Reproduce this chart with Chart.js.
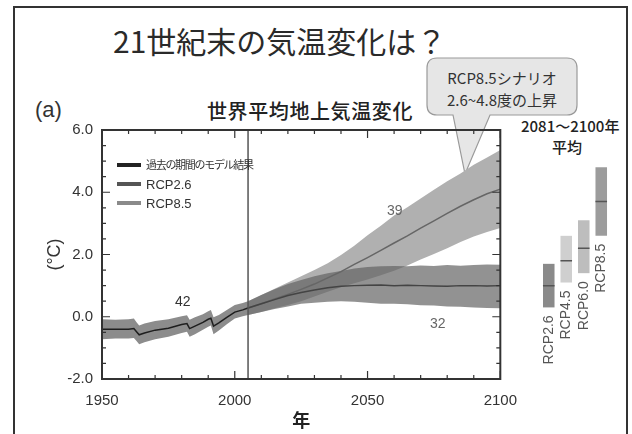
<!DOCTYPE html>
<html lang="ja">
<head>
<meta charset="utf-8">
<script src="https://cdn.jsdelivr.net/npm/chart.js@4.4.1/dist/chart.umd.min.js"></script>
<style>
  html, body { margin: 0; padding: 0; background: #fff; }
  body { width: 632px; height: 434px; position: relative; overflow: hidden;
         font-family: "Noto Sans CJK JP", "Liberation Sans", sans-serif; color: #222; }
  .abs { position: absolute; line-height: 1; white-space: nowrap; }
  #frame { position: absolute; left: 13px; top: 6px; width: 611px; height: 460px;
           border: 2px solid #333; border-bottom: none; }
  #main { position: absolute; left: 0; top: 0; }
  #side { position: absolute; left: 530px; top: 0; }
  .leg { position: absolute; left: 117px; width: 24px; height: 4px; }
  .legtxt { position: absolute; left: 146px; font-size: 13px; line-height: 1;
            font-family: "Liberation Sans", "Noto Sans CJK JP", sans-serif; color: #333; }
</style>
</head>
<body>
<div id="frame"></div>

<div class="abs" style="left:113px; top:25px; font-size:30px; color:#2a2a2a;">21世紀末の気温変化は？</div>
<div class="abs" style="left:35px; top:99px; font-size:22px; font-family:'Liberation Sans',sans-serif; color:#333;">(a)</div>
<div class="abs" style="left:207px; top:101px; font-size:20px; font-weight:500; letter-spacing:0.6px;">世界平均地上気温変化</div>

<svg class="abs" style="left:0; top:0;" width="632" height="434">
  <path d="M437 58 H567 Q577 58 577 68 V105 Q577 115 567 115 H490 L465 174 L453 115 H437 Q427 115 427 105 V68 Q427 58 437 58 Z"
        fill="#e6e6e6" stroke="#9a9a9a" stroke-width="1.2"/>
</svg>
<div class="abs" style="left:427px; width:150px; text-align:center; top:70px; font-size:15px; color:#333;">RCP8.5シナリオ</div>
<div class="abs" style="left:427px; width:150px; text-align:center; top:92px; font-size:15px; color:#333;">2.6~4.8度の上昇</div>

<div class="abs" style="left:521px; top:118px; font-size:15px; font-weight:500;">2081～2100年</div>
<div class="abs" style="left:552px; top:139px; font-size:15px; font-weight:500;">平均</div>

<canvas id="main" width="530" height="434"></canvas>
<canvas id="side" width="100" height="434"></canvas>

<div class="leg" style="top:163px; background:#222;"></div>
<div class="leg" style="top:182px; background:#555;"></div>
<div class="leg" style="top:201px; background:#8a8a8a;"></div>
<div class="legtxt" style="top:159px; font-size:11px; letter-spacing:-1.3px; font-family:'Noto Sans CJK JP',sans-serif;">過去の期間のモデル結果</div>
<div class="legtxt" style="top:178px;">RCP2.6</div>
<div class="legtxt" style="top:197px;">RCP8.5</div>

<div class="abs" style="left:175px; top:294px; font-size:14px; font-family:'Liberation Sans',sans-serif; color:#333;">42</div>
<div class="abs" style="left:387px; top:203px; font-size:14px; font-family:'Liberation Sans',sans-serif; color:#666;">39</div>
<div class="abs" style="left:430px; top:316px; font-size:14px; font-family:'Liberation Sans',sans-serif; color:#666;">32</div>

<script>
// historical model runs (1950-2005)
const histYears = [1950, 1955, 1960, 1962, 1963, 1964, 1966, 1970, 1975, 1980, 1982, 1983, 1985, 1988, 1990, 1991, 1992, 1994, 1997, 2000, 2003, 2005];
const histMean  = [-0.40, -0.40, -0.40, -0.38, -0.48, -0.58, -0.52, -0.43, -0.37, -0.25, -0.22, -0.38, -0.30, -0.18, -0.08, -0.05, -0.30, -0.20, -0.02, 0.15, 0.22, 0.28];
const histUpper = [-0.08, -0.10, -0.08, -0.06, -0.18, -0.28, -0.22, -0.14, -0.08, 0.02, 0.05, -0.10, -0.02, 0.08, 0.18, 0.22, -0.02, 0.06, 0.22, 0.38, 0.44, 0.50];
const histLower = [-0.72, -0.70, -0.70, -0.68, -0.78, -0.88, -0.82, -0.72, -0.64, -0.52, -0.48, -0.64, -0.56, -0.42, -0.32, -0.28, -0.56, -0.44, -0.24, -0.06, 0.02, 0.06];

// scenarios (2005-2100)
const futYears   = [2005, 2010, 2015, 2020, 2025, 2030, 2035, 2040, 2045, 2050, 2055, 2060, 2065, 2070, 2075, 2080, 2085, 2090, 2095, 2100];
const rcp26Mean  = [0.28, 0.42, 0.55, 0.68, 0.78, 0.86, 0.93, 0.98, 1.00, 1.01, 1.02, 1.00, 1.01, 1.00, 0.99, 0.98, 1.00, 1.00, 0.99, 1.00];
const rcp26Upper = [0.50, 0.70, 0.88, 1.05, 1.18, 1.30, 1.40, 1.47, 1.55, 1.60, 1.62, 1.63, 1.62, 1.65, 1.63, 1.66, 1.64, 1.66, 1.68, 1.67];
const rcp26Lower = [0.06, 0.15, 0.25, 0.33, 0.42, 0.45, 0.48, 0.50, 0.48, 0.45, 0.42, 0.42, 0.40, 0.37, 0.36, 0.33, 0.32, 0.30, 0.28, 0.27];
const rcp85Mean  = [0.28, 0.42, 0.57, 0.72, 0.88, 1.05, 1.25, 1.45, 1.68, 1.90, 2.13, 2.37, 2.60, 2.85, 3.08, 3.32, 3.55, 3.76, 3.95, 4.10];
const rcp85Upper = [0.50, 0.70, 0.90, 1.10, 1.30, 1.50, 1.72, 1.98, 2.28, 2.62, 2.92, 3.25, 3.52, 3.80, 4.08, 4.35, 4.60, 4.88, 5.12, 5.36];
const rcp85Lower = [0.06, 0.15, 0.27, 0.38, 0.50, 0.65, 0.80, 0.95, 1.08, 1.20, 1.33, 1.48, 1.65, 1.84, 2.02, 2.20, 2.40, 2.58, 2.72, 2.85];

// 2081-2100 averages
const sideLabels = ['RCP2.6', 'RCP4.5', 'RCP6.0', 'RCP8.5'];
const sideLow    = [0.3, 1.1, 1.4, 2.6];
const sideHigh   = [1.7, 2.6, 3.1, 4.8];
const sideMean   = [1.0, 1.8, 2.2, 3.7];
const sideColors = ['#8a8a8a', '#cfcfcf', '#bdbdbd', '#9c9c9c'];

const splitYear = 2005;
const tickFont = "'Liberation Sans', Arial, sans-serif";

const pts = (xs, ys) => xs.map((x, i) => ({ x: x, y: ys[i] }));

const band = (data, color, fill) => ({
  data: data, fill: fill, backgroundColor: color, borderColor: 'transparent',
  borderWidth: 0, pointRadius: 0, tension: 0
});
const meanLine = (data, color) => ({
  data: data, fill: false, borderColor: color, borderWidth: 1.5, pointRadius: 0, tension: 0
});

// inward tick marks, frame and the 2005 divider
const frameTicks = {
  id: 'frameTicks',
  afterDatasetsDraw(chart) {
    const { ctx, chartArea: a, scales: { x, y } } = chart;
    ctx.save();
    ctx.strokeStyle = '#333';
    ctx.lineWidth = 1.2;
    ctx.beginPath();
    for (let v = 1950; v <= 2100; v += 10) {
      const px = x.getPixelForValue(v);
      const len = v % 50 === 0 ? 8 : 4;
      ctx.moveTo(px, a.bottom); ctx.lineTo(px, a.bottom - len);
      ctx.moveTo(px, a.top); ctx.lineTo(px, a.top + len);
    }
    for (let v = -2; v <= 6; v += 0.5) {
      const py = y.getPixelForValue(v);
      const len = v % 2 === 0 ? 8 : 4;
      ctx.moveTo(a.left, py); ctx.lineTo(a.left + len, py);
      ctx.moveTo(a.right, py); ctx.lineTo(a.right - len, py);
    }
    ctx.stroke();
    const sx = x.getPixelForValue(splitYear);
    ctx.strokeStyle = '#555';
    ctx.lineWidth = 1.5;
    ctx.beginPath(); ctx.moveTo(sx, a.top); ctx.lineTo(sx, a.bottom); ctx.stroke();
    ctx.strokeStyle = '#333';
    ctx.lineWidth = 2;
    ctx.strokeRect(a.left, a.top, a.right - a.left, a.bottom - a.top);
    ctx.restore();
  }
};

new Chart(document.getElementById('main'), {
  type: 'line',
  data: {
    datasets: [
      meanLine(pts(histYears, histMean), '#1e1e1e'),
      meanLine(pts(futYears, rcp26Mean), '#444'),
      meanLine(pts(futYears, rcp85Mean), '#666'),
      band(pts(histYears, histUpper), '#8c8c8c', '+1'),
      band(pts(histYears, histLower), '#8c8c8c', false),
      band(pts(futYears, rcp26Upper), 'rgba(100,100,100,0.7)', '+1'),
      band(pts(futYears, rcp26Lower), 'rgba(100,100,100,0.7)', false),
      band(pts(futYears, rcp85Upper), '#b0b0b0', '+1'),
      band(pts(futYears, rcp85Lower), '#b0b0b0', false)
    ]
  },
  options: {
    responsive: false,
    animation: false,
    layout: { padding: { top: 130, right: 17, bottom: 0, left: 0 } },
    plugins: { legend: { display: false }, tooltip: { enabled: false } },
    scales: {
      x: {
        type: 'linear', min: 1950, max: 2100,
        grid: { display: false, drawTicks: false },
        border: { display: false },
        ticks: { stepSize: 50, padding: 13, color: '#333', font: { family: tickFont, size: 15 },
                 callback: (v) => String(v) },
        title: { display: true, text: '年', color: '#222', padding: { top: 0, bottom: 3 },
                 font: { family: "'Noto Sans CJK JP', sans-serif", size: 18, weight: 'bold' } },
        afterFit: (s) => { s.height = 55; }
      },
      y: {
        min: -2, max: 6,
        grid: { display: false, drawTicks: false },
        border: { display: false },
        ticks: { stepSize: 2, padding: 9, color: '#333', font: { family: tickFont, size: 15 },
                 callback: (v) => v.toFixed(1) },
        title: { display: true, text: '(°C)', color: '#333', padding: { top: 44, bottom: 0 },
                 font: { family: "'Liberation Sans', sans-serif", size: 18 } },
        afterFit: (s) => { s.width = 102; }
      }
    }
  },
  plugins: [frameTicks]
});

// rotated scenario names under each bar
const barLabels = {
  id: 'barLabels',
  afterDatasetsDraw(chart) {
    const { ctx, scales: { y } } = chart;
    const meta = chart.getDatasetMeta(0);
    ctx.save();
    ctx.fillStyle = '#555';
    ctx.font = "14px 'Liberation Sans', Arial, sans-serif";
    ctx.textAlign = 'right';
    ctx.textBaseline = 'middle';
    meta.data.forEach((bar, i) => {
      ctx.save();
      ctx.translate(bar.x, y.getPixelForValue(sideLow[i]) + 8);
      ctx.rotate(-Math.PI / 2);
      ctx.fillText(sideLabels[i], 0, 0);
      ctx.restore();
    });
    ctx.restore();
  }
};

new Chart(document.getElementById('side'), {
  type: 'bar',
  data: {
    labels: sideLabels,
    datasets: [
      {
        data: sideLow.map((lo, i) => [lo, sideHigh[i]]),
        backgroundColor: sideColors,
        borderWidth: 0,
        barPercentage: 0.66,
        categoryPercentage: 1,
        order: 2
      },
      {
        type: 'line',
        data: sideMean,
        showLine: false,
        pointStyle: 'line',
        pointRadius: 5.8,
        borderColor: '#555',
        borderWidth: 1.5,
        order: 1
      }
    ]
  },
  options: {
    responsive: false,
    animation: false,
    layout: { padding: { top: 130, right: 20, bottom: 55, left: 10 } },
    plugins: { legend: { display: false }, tooltip: { enabled: false } },
    scales: {
      x: { display: false },
      y: { display: false, min: -2, max: 6 }
    }
  },
  plugins: [barLabels]
});
</script>
</body>
</html>
